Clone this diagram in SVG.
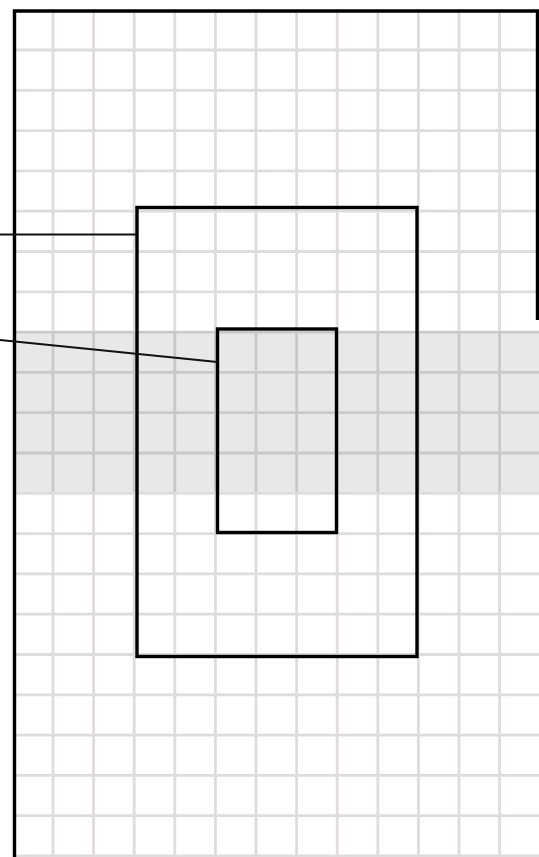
<svg xmlns="http://www.w3.org/2000/svg" width="539" height="857" viewBox="0 0 539 857">
<style>
.grid line{stroke:#e0dcdc;stroke-width:2.8}
.box{fill:none;stroke:#000;stroke-width:3.4}
.conn{stroke:#111;stroke-width:2;fill:none}
</style>
<rect width="539" height="857" fill="#fff"/>
<g id="grid" class="grid">
<line x1="53" y1="0" x2="53" y2="857"/>
<line x1="93.6" y1="0" x2="93.6" y2="857"/>
<line x1="134.2" y1="0" x2="134.2" y2="857"/>
<line x1="174.8" y1="0" x2="174.8" y2="857"/>
<line x1="215.4" y1="0" x2="215.4" y2="857"/>
<line x1="256" y1="0" x2="256" y2="857"/>
<line x1="296.6" y1="0" x2="296.6" y2="857"/>
<line x1="337.2" y1="0" x2="337.2" y2="857"/>
<line x1="377.8" y1="0" x2="377.8" y2="857"/>
<line x1="418.4" y1="0" x2="418.4" y2="857"/>
<line x1="459" y1="0" x2="459" y2="857"/>
<line x1="499.6" y1="0" x2="499.6" y2="857"/>
<line x1="0" y1="50" x2="539" y2="50"/>
<line x1="0" y1="90.3" x2="539" y2="90.3"/>
<line x1="0" y1="130.6" x2="539" y2="130.6"/>
<line x1="0" y1="170.9" x2="539" y2="170.9"/>
<line x1="0" y1="211.2" x2="539" y2="211.2"/>
<line x1="0" y1="251.5" x2="539" y2="251.5"/>
<line x1="0" y1="291.8" x2="539" y2="291.8"/>
<line x1="0" y1="332.1" x2="539" y2="332.1"/>
<line x1="0" y1="372.4" x2="539" y2="372.4"/>
<line x1="0" y1="412.7" x2="539" y2="412.7"/>
<line x1="0" y1="453" x2="539" y2="453"/>
<line x1="0" y1="493.3" x2="539" y2="493.3"/>
<line x1="0" y1="533.6" x2="539" y2="533.6"/>
<line x1="0" y1="573.9" x2="539" y2="573.9"/>
<line x1="0" y1="614.2" x2="539" y2="614.2"/>
<line x1="0" y1="654.5" x2="539" y2="654.5"/>
<line x1="0" y1="694.8" x2="539" y2="694.8"/>
<line x1="0" y1="735.1" x2="539" y2="735.1"/>
<line x1="0" y1="775.4" x2="539" y2="775.4"/>
<line x1="0" y1="815.7" x2="539" y2="815.7"/>
<line x1="0" y1="856" x2="539" y2="856"/>
</g>
<rect x="0" y="0" width="13" height="857" fill="#fff"/>
<rect x="0" y="0" width="539" height="9" fill="#fff"/>
<g id="band"><rect x="14" y="331" width="525" height="161" fill="#000" fill-opacity="0.09"/></g>
<g id="frame"><path d="M14.5,857 V11 H537.5 V320" fill="none" stroke="#000" stroke-width="3.4"/></g>
<g id="outer"><rect class="box" x="137" y="207.5" width="280" height="449"/></g>
<g id="inner"><rect class="box" x="217.5" y="329" width="119" height="203.5"/></g>
<g id="connectors">
<path class="conn" d="M0,234.5 H137"/>
<path class="conn" d="M0,340 L217.5,362"/>
</g>
</svg>
